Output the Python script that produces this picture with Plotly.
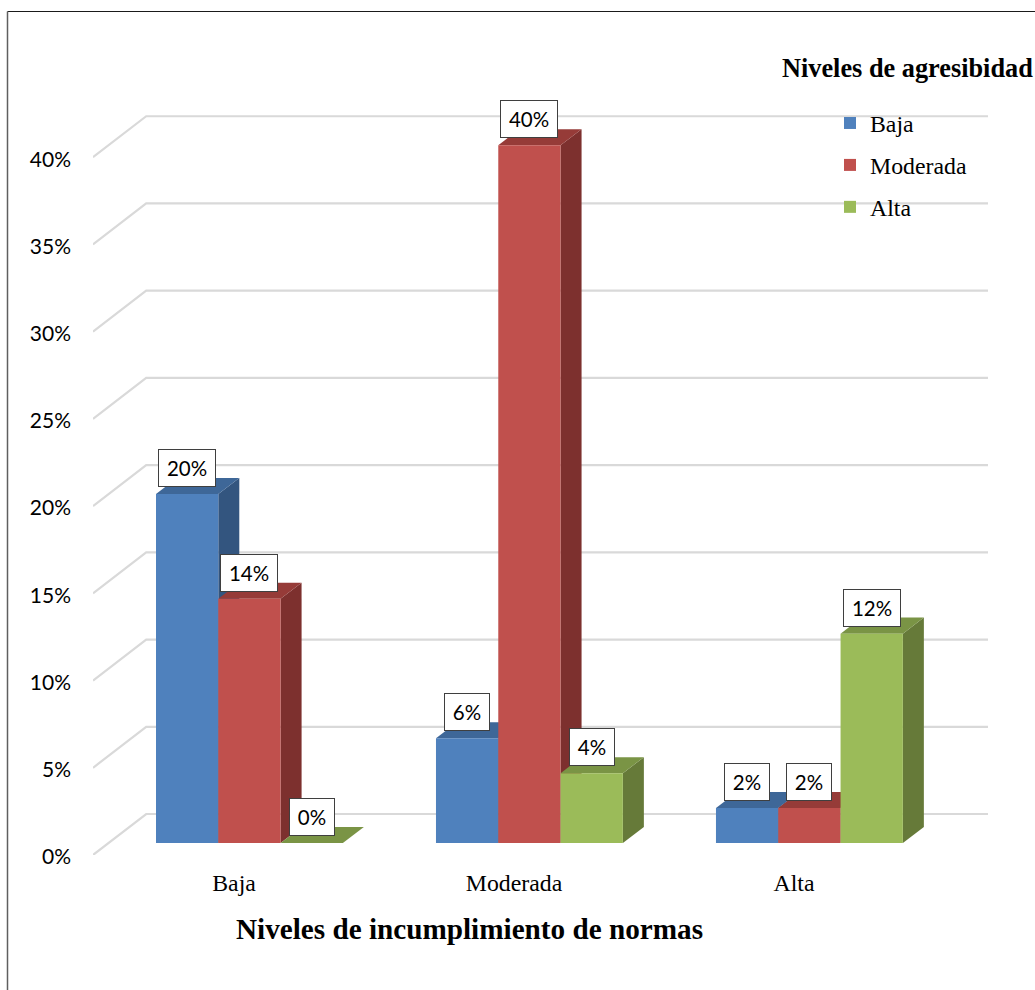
import plotly.graph_objects as go

categories = ["Baja", "Moderada", "Alta"]
series_names = ["Baja", "Moderada", "Alta"]
baja = [20, 6, 2]
moderada = [14, 40, 2]
alta = [0, 4, 12]
y_ticks = [0, 5, 10, 15, 20, 25, 30, 35, 40]
y_tick_labels = ["0%", "5%", "10%", "15%", "20%", "25%", "30%", "35%", "40%"]

FRONT_COLORS = ["#4f81bd", "#c0504d", "#9bbb59"]
SIDE_COLORS = ["#33557f", "#7d302e", "#667a39"]
TOP_COLORS = ["#3e6798", "#963b38", "#7a9445"]
GRID_COLOR = "#d9d9d9"
SERIF = "Liberation Serif"
SANS = "Lato"

# pseudo 3D set up, everything in axis units
X_RANGE = [-0.5036, 2.693]
Y_RANGE = [0, 45]
WALL_DX, WALL_DY = 0.19, 2.35
BAR_BASE = 0.69
BAR_WIDTH = 0.2225
BAR_OFFSETS = [-0.2786, -0.0561, 0.1664]
BAR_DX, BAR_DY = 0.075, 0.92

ML, MR, MT, MB = 93, 47, 70, 135
W, H = 1035, 990
PLOT_W, PLOT_H = W - ML - MR, H - MT - MB

values = [baja, moderada, alta]
positions = list(range(len(categories)))

fig = go.Figure()

# Back wall gridlines
for tick in y_ticks:
    fig.add_trace(
        go.Scatter(
            x=[X_RANGE[0], X_RANGE[0] + WALL_DX, X_RANGE[1]],
            y=[tick, tick + WALL_DY, tick + WALL_DY],
            mode="lines",
            line=dict(color=GRID_COLOR, width=2.2),
            showlegend=False,
            hoverinfo="skip",
        )
    )

# Side and top faces, left to right so the nearer ones cover the others
for pos in positions:
    for s, vals in enumerate(values):
        x0 = pos + BAR_OFFSETS[s]
        x1 = x0 + BAR_WIDTH
        top = BAR_BASE + vals[pos]
        fig.add_trace(
            go.Scatter(
                x=[x1, x1 + BAR_DX, x1 + BAR_DX, x1, x1],
                y=[BAR_BASE, BAR_BASE + BAR_DY, top + BAR_DY, top, BAR_BASE],
                mode="lines",
                fill="toself",
                fillcolor=SIDE_COLORS[s],
                line=dict(width=0),
                showlegend=False,
                hoverinfo="skip",
            )
        )
        fig.add_trace(
            go.Scatter(
                x=[x0, x1, x1 + BAR_DX, x0 + BAR_DX, x0],
                y=[top, top, top + BAR_DY, top + BAR_DY, top],
                mode="lines",
                fill="toself",
                fillcolor=TOP_COLORS[s],
                line=dict(width=0),
                showlegend=False,
                hoverinfo="skip",
            )
        )

# Front faces go on an overlaying axis pair, scatter always draws above bars otherwise
for s, vals in enumerate(values):
    fig.add_trace(
        go.Bar(
            x=positions,
            y=vals,
            base=BAR_BASE,
            width=BAR_WIDTH,
            offset=BAR_OFFSETS[s],
            name=series_names[s],
            legendgroup=series_names[s],
            marker=dict(color=FRONT_COLORS[s], line=dict(width=0)),
            hovertemplate="%{y}%",
            xaxis="x2",
            yaxis="y2",
        )
    )

# Value boxes
for s, vals in enumerate(values):
    for pos in positions:
        label = f"{vals[pos]}%"
        fig.add_annotation(
            x=pos + BAR_OFFSETS[s] + BAR_WIDTH / 2,
            y=BAR_BASE + vals[pos],
            yshift=26,
            text=label,
            showarrow=False,
            width=56 if len(label) == 3 else 44,
            height=36,
            borderpad=0,
            bgcolor="white",
            bordercolor="#3f3f3f",
            borderwidth=1,
            font=dict(family=SANS, size=20.5, color="black"),
        )

# Titles sit outside the axis range, so they are placed on the paper
fig.add_annotation(
    xref="paper",
    yref="paper",
    x=(907.5 - ML) / PLOT_W,
    y=(H - MB - 68) / PLOT_H,
    xanchor="center",
    yanchor="middle",
    text="<b>Niveles de agresibidad</b>",
    showarrow=False,
    font=dict(family=SERIF, size=26.3, color="black"),
)
fig.add_annotation(
    xref="paper",
    yref="paper",
    x=(469 - ML) / PLOT_W,
    y=(H - MB - 929) / PLOT_H,
    xanchor="center",
    yanchor="middle",
    text="<b>Niveles de incumplimiento de normas</b>",
    showarrow=False,
    font=dict(family=SERIF, size=29.2, color="black"),
)

# Page frame, top and left only
fig.add_shape(
    type="line",
    xref="paper",
    yref="paper",
    x0=(7.5 - ML) / PLOT_W,
    x1=(W - ML) / PLOT_W,
    y0=(H - MB - 11.5) / PLOT_H,
    y1=(H - MB - 11.5) / PLOT_H,
    line=dict(color="#1a1a1a", width=1),
)
fig.add_shape(
    type="line",
    xref="paper",
    yref="paper",
    x0=(7.5 - ML) / PLOT_W,
    x1=(7.5 - ML) / PLOT_W,
    y0=(H - MB - 11.5) / PLOT_H,
    y1=-MB / PLOT_H,
    line=dict(color="#5f5f5f", width=1.5),
)

fig.update_layout(
    width=W,
    height=H,
    margin=dict(l=ML, r=MR, t=MT, b=MB),
    plot_bgcolor="white",
    paper_bgcolor="white",
    showlegend=True,
    legend=dict(
        x=(830 - ML) / PLOT_W,
        y=(H - MB - 101) / PLOT_H,
        xanchor="left",
        yanchor="top",
        bgcolor="rgba(0,0,0,0)",
        tracegroupgap=8,
        font=dict(family=SERIF, size=23.8, color="black"),
    ),
    xaxis=dict(
        range=X_RANGE,
        tickvals=positions,
        ticktext=categories,
        showgrid=False,
        zeroline=False,
        showline=False,
        ticks="",
        ticklabelstandoff=11,
        tickfont=dict(family=SERIF, size=23.8, color="black"),
    ),
    yaxis=dict(
        range=Y_RANGE,
        tickvals=y_ticks,
        ticktext=y_tick_labels,
        showgrid=False,
        zeroline=False,
        showline=False,
        ticks="",
        ticklabelstandoff=21,
        ticklabelshift=2,
        tickfont=dict(family=SANS, size=21, color="black"),
    ),
    xaxis2=dict(overlaying="x", matches="x", visible=False),
    yaxis2=dict(overlaying="y", matches="y", visible=False),
)

fig.write_html(
    "out.html",
    config=dict(displayModeBar=False),
    post_script="document.body.style.margin = '0';",
)
